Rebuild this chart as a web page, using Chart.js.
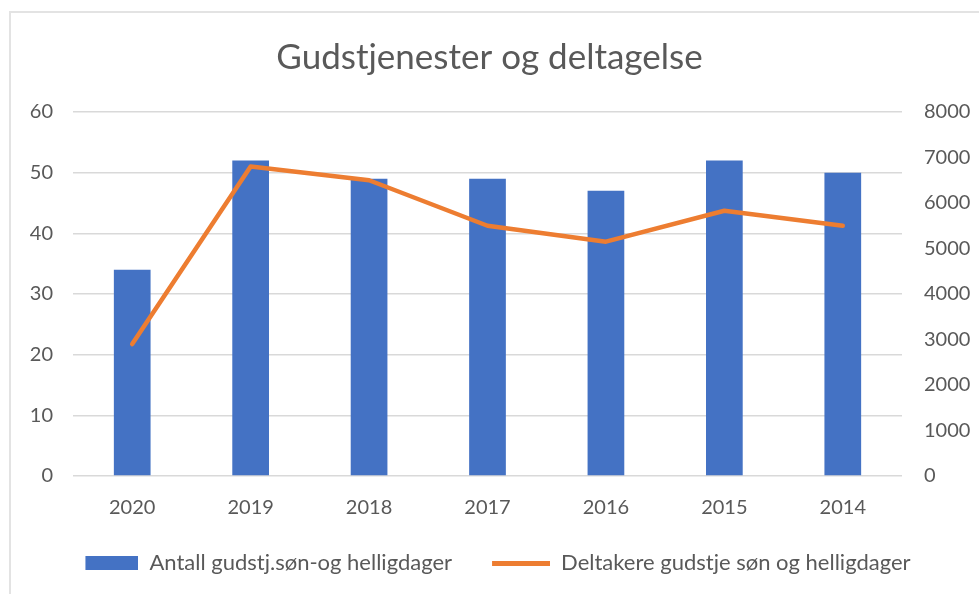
<!DOCTYPE html>
<html>
<head>
<meta charset="utf-8">
<script src="https://cdn.jsdelivr.net/npm/chart.js@4"></script>
<style>
  html, body { margin: 0; padding: 0; background: #fff; }
  #wrap { position: relative; width: 979px; height: 594px; overflow: hidden; }
  #frame { position: absolute; left: 9px; top: 11px; width: 1100px; height: 700px; border: 2px solid #e3e3e3; box-sizing: border-box; }
  #c { position: absolute; left: 0; top: 0; }
</style>
</head>
<body>
<div id="wrap">
  <div id="frame"></div>
  <canvas id="c" width="979" height="594"></canvas>
</div>
<script>
const categories = ['2020', '2019', '2018', '2017', '2016', '2015', '2014'];
const gudstjenester = [34, 52, 49, 49, 47, 52, 50];
const deltakere = [2900, 6800, 6500, 5500, 5150, 5830, 5500];
const leftTicks = [0, 10, 20, 30, 40, 50, 60];
const rightTicks = [0, 1000, 2000, 3000, 4000, 5000, 6000, 7000, 8000];

const BLUE = '#4472C4';
const ORANGE = '#ED7D31';
const TEXT = '#595959';
const GRID = '#D9D9D9';
const FONT = 'Lato, "Open Sans", sans-serif';

function makeSwatch(w, h, draw) {
  const cv = document.createElement('canvas');
  cv.width = w; cv.height = h;
  draw(cv.getContext('2d'), w, h);
  return cv;
}
const SW = 70;
const barSwatch = makeSwatch(SW, 14, (ctx, w, h) => { ctx.fillStyle = BLUE; ctx.fillRect(w - 53, 0, 53, h); });
const lineSwatch = makeSwatch(SW, 14, (ctx, w, h) => { ctx.fillStyle = ORANGE; ctx.fillRect(w - 58, 5, 58, 5); });

new Chart(document.getElementById('c'), {
  data: {
    labels: categories,
    datasets: [
      {
        type: 'line',
        label: 'Deltakere gudstje søn og helligdager',
        data: deltakere,
        yAxisID: 'y1',
        borderColor: ORANGE,
        backgroundColor: ORANGE,
        borderWidth: 4.5,
        pointRadius: 0,
        tension: 0,
        borderCapStyle: 'round',
        borderJoinStyle: 'round',
        pointStyle: lineSwatch,
        order: 0
      },
      {
        type: 'bar',
        label: 'Antall gudstj.søn-og helligdager',
        data: gudstjenester,
        yAxisID: 'y',
        backgroundColor: BLUE,
        borderWidth: 0,
        categoryPercentage: 1,
        barPercentage: 0.31,
        pointStyle: barSwatch,
        order: 1
      }
    ]
  },
  options: {
    responsive: false,
    animation: false,
    layout: { padding: { left: 0, right: 0, top: 0, bottom: 10 } },
    plugins: {
      title: {
        display: true,
        text: 'Gudstjenester og deltagelse',
        color: TEXT,
        font: { family: FONT, size: 35, weight: 'normal' },
        padding: { top: 37, bottom: 33 }
      },
      legend: {
        position: 'bottom',
        reverse: true,
        labels: {
          usePointStyle: true,
          pointStyleWidth: SW,
          color: TEXT,
          font: { family: FONT, size: 22 },
          padding: 28
        }
      },
      tooltip: { enabled: false }
    },
    scales: {
      x: {
        grid: { display: false, drawTicks: false },
        border: { display: false },
        ticks: { color: TEXT, font: { family: FONT, size: 20 }, padding: 20 },
        afterFit: s => { s.height = 48; }
      },
      y: {
        position: 'left',
        min: 0, max: 60,
        afterBuildTicks: s => { s.ticks = leftTicks.map(v => ({ value: v })); },
        grid: { color: GRID, lineWidth: 1.5, drawTicks: false },
        border: { display: false },
        ticks: { color: TEXT, font: { family: FONT, size: 20 }, padding: 20, callback: v => String(v) },
        afterFit: s => { s.width = 73; }
      },
      y1: {
        position: 'right',
        min: 0, max: 8000,
        afterBuildTicks: s => { s.ticks = rightTicks.map(v => ({ value: v })); },
        grid: { display: false, drawTicks: false },
        border: { display: false },
        ticks: { color: TEXT, font: { family: FONT, size: 20 }, padding: 22, callback: v => String(v) },
        afterFit: s => { s.width = 77; }
      }
    }
  }
});
</script>
</body>
</html>
